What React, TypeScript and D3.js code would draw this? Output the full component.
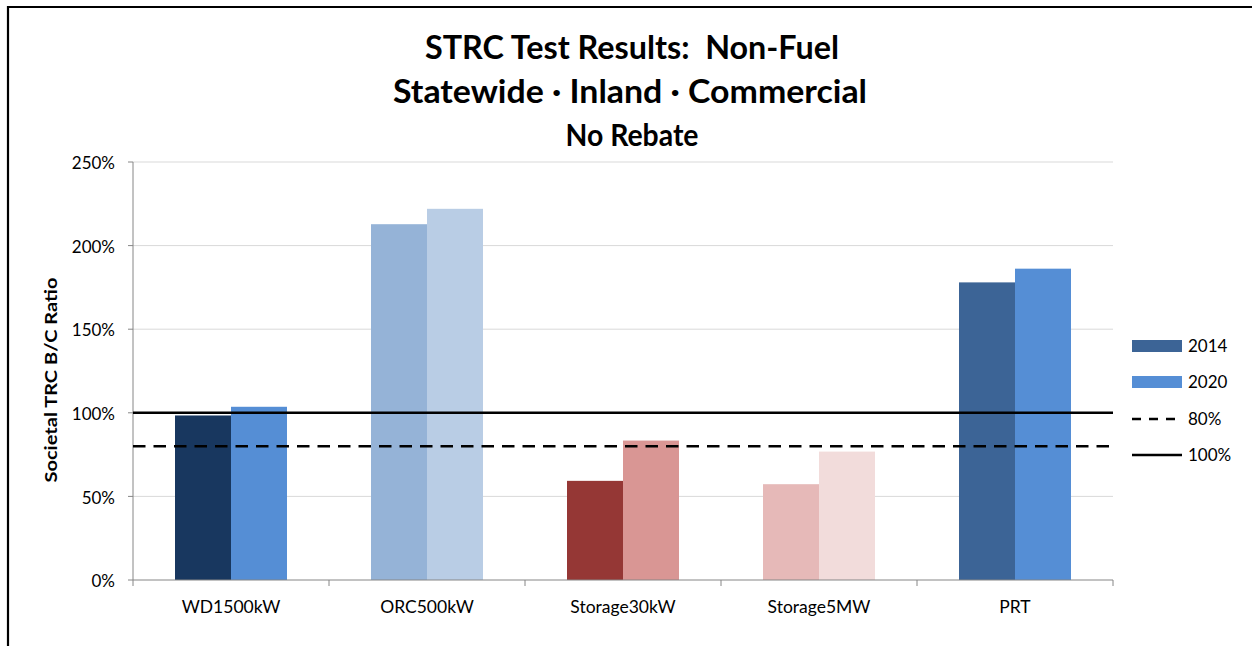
import React from "react";
import * as d3 from "d3";

const categories = ["WD1500kW", "ORC500kW", "Storage30kW", "Storage5MW", "PRT"];
const series = ["2014", "2020"];
const values2014 = [0.984, 2.128, 0.593, 0.573, 1.78];
const values2020 = [1.036, 2.22, 0.834, 0.768, 1.862];
const yTicks = [0, 0.5, 1, 1.5, 2, 2.5];
const refLines = [
  { label: "80%", value: 0.8, dashed: true },
  { label: "100%", value: 1.0, dashed: false },
];
const titleLines = ["STRC Test Results:  Non-Fuel", "Statewide · Inland · Commercial", "No Rebate"];
const yAxisTitle = "Societal TRC B/C Ratio";

const colors2014 = ["#18375f", "#95b3d7", "#953735", "#e6b9b8", "#3c6496"];
const colors2020 = ["#558ed5", "#b9cde5", "#d99694", "#f2dcdb", "#558ed5"];
const legendColors = ["#3c6496", "#558ed5"];

const W = 1252;
const H = 646;
const M = { left: 133, right: 1113, top: 162, bottom: 580 };
const FONT = "Lato, 'Open Sans', sans-serif";

export default function App() {
  const x0 = d3
    .scaleBand<string>()
    .domain(categories)
    .range([M.left, M.right])
    .paddingInner(0.4286)
    .paddingOuter(0.2143);
  const x1 = d3.scaleBand<string>().domain(series).range([0, x0.bandwidth()]).padding(0);
  const y = d3.scaleLinear().domain([0, 2.5]).range([M.bottom, M.top]);
  const step = x0.step();
  const boundaries = d3.range(categories.length + 1).map((i) => M.left + i * step);

  const titleSpecs = [
    { y: 59, size: 32, len: 414, cx: 632 },
    { y: 103, size: 32, len: 474, cx: 630 },
    { y: 146, size: 30, len: 133, cx: 632 },
  ];

  const legendX = 1132;
  const legendItems = [
    { kind: "rect", label: series[0], color: legendColors[0], y: 346 },
    { kind: "rect", label: series[1], color: legendColors[1], y: 382 },
    { kind: "dash", label: refLines[0].label, y: 419 },
    { kind: "solid", label: refLines[1].label, y: 455 },
  ];

  return (
    <div style={{ position: "absolute", left: 0, top: 0 }}>
      <svg width={W} height={H} style={{ display: "block", background: "#fff" }} fontFamily={FONT}>
        <rect x={0} y={0} width={W} height={H} fill="#fff" />
        {/* frame */}
        <path d={`M8,${H + 5} L8,7 L${W + 5},7`} fill="none" stroke="#000" strokeWidth={2.2} />

        {/* titles */}
        {titleLines.map((t, i) => (
          <text
            key={t}
            x={titleSpecs[i].cx}
            y={titleSpecs[i].y}
            textAnchor="middle"
            fontWeight="bold"
            fontSize={titleSpecs[i].size}
            textLength={titleSpecs[i].len}
            lengthAdjust="spacingAndGlyphs"
            fill="#000"
            style={{ whiteSpace: "pre" }}
          >
            {t}
          </text>
        ))}

        {/* gridlines */}
        {yTicks
          .filter((t) => t > 0)
          .map((t) => (
            <line key={t} x1={M.left} x2={M.right} y1={y(t)} y2={y(t)} stroke="#d9d9d9" strokeWidth={1} />
          ))}

        {/* bars */}
        {categories.map((c, i) => (
          <g key={c}>
            <rect
              x={(x0(c) as number) + (x1("2014") as number)}
              y={y(values2014[i])}
              width={x1.bandwidth()}
              height={y(0) - y(values2014[i])}
              fill={colors2014[i]}
            />
            <rect
              x={(x0(c) as number) + (x1("2020") as number)}
              y={y(values2020[i])}
              width={x1.bandwidth()}
              height={y(0) - y(values2020[i])}
              fill={colors2020[i]}
            />
          </g>
        ))}

        {/* axes */}
        <line x1={M.left} x2={M.left} y1={M.top} y2={M.bottom} stroke="#868686" strokeWidth={1} />
        <line x1={M.left} x2={M.right} y1={M.bottom} y2={M.bottom} stroke="#868686" strokeWidth={1} />
        {yTicks.map((t) => (
          <g key={"yt" + t}>
            <line x1={M.left - 5} x2={M.left} y1={y(t)} y2={y(t)} stroke="#868686" strokeWidth={1} />
            <text x={115} y={y(t)} dy="0.42em" textAnchor="end" fontSize={17} fill="#000">
              {d3.format(".0%")(t)}
            </text>
          </g>
        ))}
        {boundaries.map((bx) => (
          <line key={"xt" + bx} x1={bx} x2={bx} y1={M.bottom} y2={M.bottom + 6} stroke="#868686" strokeWidth={1} />
        ))}
        {categories.map((c) => (
          <text
            key={"xl" + c}
            x={(x0(c) as number) + x0.bandwidth() / 2}
            y={613}
            textAnchor="middle"
            fontSize={17.5}
            fill="#000"
          >
            {c}
          </text>
        ))}

        {/* reference lines */}
        {refLines.map((r) => (
          <line
            key={r.label}
            x1={M.left}
            x2={M.right}
            y1={y(r.value)}
            y2={y(r.value)}
            stroke="#000"
            strokeWidth={2.5}
            strokeDasharray={r.dashed ? "12.5,8" : undefined}
          />
        ))}

        {/* y axis title */}
        <text
          transform={`translate(57,380) rotate(-90)`}
          textAnchor="middle"
          fontWeight="bold"
          fontSize={17}
          textLength={205}
          lengthAdjust="spacingAndGlyphs"
          fill="#000"
        >
          {yAxisTitle}
        </text>

        {/* legend */}
        {legendItems.map((it) => (
          <g key={it.label}>
            {it.kind === "rect" ? (
              <rect x={legendX} y={it.y - 6} width={50} height={12} fill={it.color} />
            ) : (
              <line
                x1={legendX}
                x2={legendX + 50}
                y1={it.y}
                y2={it.y}
                stroke="#000"
                strokeWidth={2.5}
                strokeDasharray={it.kind === "dash" ? "9,8" : undefined}
              />
            )}
            <text x={legendX + 56} y={it.y} dy="0.36em" fontSize={17} fill="#000">
              {it.label}
            </text>
          </g>
        ))}
      </svg>
    </div>
  );
}
